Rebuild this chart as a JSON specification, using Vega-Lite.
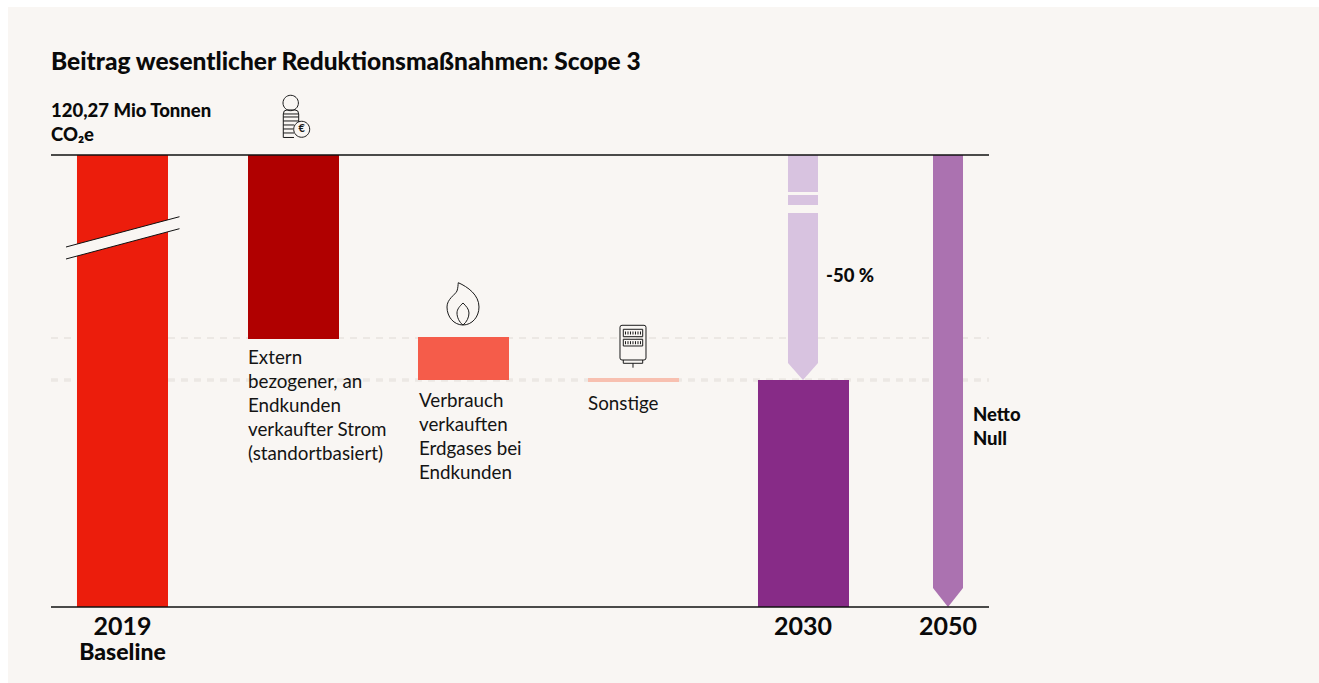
{
"$schema":"https://vega.github.io/schema/vega-lite/v6.json",
"width":1311,"height":676,"autosize":"none",
"padding":{"left":8,"top":7,"right":0,"bottom":0},
"background":"#ffffff",
"view":{"fill":"#f9f6f3","stroke":null},
"title":{"text":"Beitrag wesentlicher Reduktionsmaßnahmen: Scope 3","anchor":"start","frame":"group","offset":0,"dx":43,"dy":87,"baseline":"alphabetic","font":"Lato","fontSize":24.5,"fontWeight":900,"color":"#0a0a0a"},
"datasets":{
"bars":[
{"name":"2019 Baseline","x0":-0.2673,"x1":0.2673,"y0":120.27,"y1":0,"color":"#ec1d0c"},
{"name":"Extern bezogener Strom","x0":0.7372,"x1":1.2717,"y0":120.27,"y1":71.31,"color":"#b00000"},
{"name":"Erdgas","x0":1.7357,"x1":2.2702,"y0":71.84,"y1":60.4,"color":"#f55c4a"},
{"name":"Sonstige","x0":2.7342,"x1":3.2687,"y0":60.94,"y1":59.87,"color":"#f8c0b0"},
{"name":"2030","x0":3.7327,"x1":4.2673,"y0":60.4,"y1":0,"color":"#872b87"},
{"name":"Reduktion a","x0":3.9089,"x1":4.0852,"y0":120.27,"y1":110.43,"color":"#d8c3e0"},
{"name":"Reduktion b","x0":3.9089,"x1":4.0852,"y0":109.63,"y1":106.97,"color":"#d8c3e0"}
],
"arrows":[
{"arrow":"2030","x":3.9089,"top":104.84,"bottom":64.93},
{"arrow":"2030","x":3.9971,"top":104.84,"bottom":60.4},
{"arrow":"2030","x":4.0852,"top":104.84,"bottom":64.93},
{"arrow":"2050","x":4.7607,"top":120.27,"bottom":5.06},
{"arrow":"2050","x":4.8488,"top":120.27,"bottom":0},
{"arrow":"2050","x":4.9369,"top":120.27,"bottom":5.06}
],
"lines":[
{"x0":-0.42,"x1":5.0896,"y":120.27},
{"x0":-0.42,"x1":5.0896,"y":0}
],
"dashes":[
{"x0":-0.42,"x1":5.0896,"y":71.58,"w":2},
{"x0":-0.42,"x1":5.0896,"y":60.4,"w":3.5}
],
"break":[
{"x":-0.3319,"top":95.79,"bottom":92.6},
{"x":0.3348,"top":103.85,"bottom":100.66}
],
"breakLines":[
{"edge":"top","x":-0.3319,"y":95.79},
{"edge":"top","x":0.3348,"y":103.85},
{"edge":"bottom","x":-0.3319,"y":92.6},
{"edge":"bottom","x":0.3348,"y":100.66}
],
"notes":[
{"x":0.7372,"y":64.73,"t":"Extern\nbezogener, an\nEndkunden\nverkaufter Strom\n(standortbasiert)"},
{"x":1.7415,"y":53.28,"t":"Verbrauch\nverkauften\nErdgases bei\nEndkunden"},
{"x":2.7342,"y":52.49,"t":"Sonstige"}
],
"bold":[
{"x":-0.42,"y":130.45,"t":"120,27 Mio Tonnen\nCO₂e"},
{"x":4.1322,"y":86.54,"t":"-50 %"},
{"x":4.9956,"y":49.56,"t":"Netto\nNull"}
],
"years":[
{"x":0,"y":-7.45,"t":"2019"},
{"x":3.9971,"y":-7.45,"t":"2030"},
{"x":4.8488,"y":-7.45,"t":"2050"}
],
"sub":[{"x":0,"y":-14.1,"t":"Baseline"}],
"coin":[{"x":0.9897,"y":129.59}],
"flame":[{"x":2.0,"y":80.36}],
"meter":[{"x":2.9985,"y":69.45}],
"euro":[{"x":1.0525,"y":127.1,"t":"€"}]
},
"encoding":{
"x":{"type":"quantitative","scale":{"domain":[-0.6725,7.0279],"nice":false,"zero":false},"axis":null},
"y":{"type":"quantitative","scale":{"domain":[-20.22,159.65],"nice":false,"zero":false},"axis":null}
},
"layer":[
{"data":{"name":"dashes"},"mark":{"type":"rule","color":"#ece8e4","strokeDash":[7,6]},
 "encoding":{"x":{"field":"x0"},"x2":{"field":"x1"},"y":{"field":"y"},"strokeWidth":{"field":"w","type":"quantitative","scale":null}}},
{"data":{"name":"bars"},"mark":{"type":"rect"},
 "encoding":{"x":{"field":"x0"},"x2":{"field":"x1"},"y":{"field":"y0"},"y2":{"field":"y1"},"color":{"field":"color","type":"nominal","scale":null}}},
{"data":{"name":"arrows"},"transform":[{"filter":"datum.arrow=='2030'"}],"mark":{"type":"area","color":"#d8c3e0","opacity":1},
 "encoding":{"x":{"field":"x"},"y":{"field":"top"},"y2":{"field":"bottom"}}},
{"data":{"name":"arrows"},"transform":[{"filter":"datum.arrow=='2050'"}],"mark":{"type":"area","color":"#ab72b0","opacity":1},
 "encoding":{"x":{"field":"x"},"y":{"field":"top"},"y2":{"field":"bottom"}}},
{"data":{"name":"break"},"mark":{"type":"area","color":"#f9f6f3","opacity":1},
 "encoding":{"x":{"field":"x"},"y":{"field":"top"},"y2":{"field":"bottom"}}},
{"data":{"name":"breakLines"},"mark":{"type":"line","color":"#111111","strokeWidth":1},
 "encoding":{"x":{"field":"x"},"y":{"field":"y"},"detail":{"field":"edge"}}},
{"data":{"name":"lines"},"mark":{"type":"rule","color":"#111111","strokeWidth":1.5},
 "encoding":{"x":{"field":"x0"},"x2":{"field":"x1"},"y":{"field":"y"}}},
{"data":{"name":"notes"},"mark":{"type":"text","font":"Lato","fontSize":18.8,"align":"left","baseline":"alphabetic","lineBreak":"\n","lineHeight":24,"color":"#141414"},
 "encoding":{"x":{"field":"x"},"y":{"field":"y"},"text":{"field":"t"}}},
{"data":{"name":"bold"},"mark":{"type":"text","font":"Lato","fontSize":18.5,"fontWeight":900,"align":"left","baseline":"alphabetic","lineBreak":"\n","lineHeight":24,"color":"#0a0a0a"},
 "encoding":{"x":{"field":"x"},"y":{"field":"y"},"text":{"field":"t"}}},
{"data":{"name":"years"},"mark":{"type":"text","font":"Lato","fontSize":25,"fontWeight":"bold","align":"center","baseline":"alphabetic","color":"#0a0a0a"},
 "encoding":{"x":{"field":"x"},"y":{"field":"y"},"text":{"field":"t"}}},
{"data":{"name":"sub"},"mark":{"type":"text","font":"Lato","fontSize":23,"fontWeight":900,"align":"center","baseline":"alphabetic","color":"#0a0a0a"},
 "encoding":{"x":{"field":"x"},"y":{"field":"y"},"text":{"field":"t"}}},
{"data":{"name":"coin"},"mark":{"type":"point","size":4,"filled":false,"opacity":1,"stroke":"#1a1a1a","strokeWidth":1,
 "shape":"M7.4,-17 A7.7,7.7 0 1 1 -8,-17 A7.7,7.7 0 1 1 7.4,-17 Z M-7.7,-6 Q-7.7,-10 -4,-10 H4 Q7.7,-10 7.7,-6 V2 M-7.7,-6 V17.5 H3 M-7.7,-6 H7.7 M-7.7,-3 H7.7 M-7.7,1 H7.7 M-7.7,5 H3 M-7.7,9 H2 M-7.7,13 H3 M18.7,9.3 A8,8 0 1 1 2.7,9.3 A8,8 0 1 1 18.7,9.3 Z"},
 "encoding":{"x":{"field":"x"},"y":{"field":"y"}}},
{"data":{"name":"euro"},"mark":{"type":"text","font":"Lato","fontSize":11,"fontWeight":"bold","align":"center","baseline":"middle","color":"#1a1a1a"},
 "encoding":{"x":{"field":"x"},"y":{"field":"y"},"text":{"field":"t"}}},
{"data":{"name":"flame"},"mark":{"type":"point","size":4,"filled":false,"opacity":1,"stroke":"#1a1a1a","strokeWidth":1,
 "shape":"M-4.7,-22.3 C5,-18 16,-10 16,2 C16,12 9,20 0,20 C-9,20 -16,12 -16,2 C-16,-6 -8,-10 -6,-14 C-5,-17 -5,-20 -4.7,-22.3 Z M0,20 C-4,17 -6,12 -6,8 C-6,4 -3,1 0,-2 C3,1 6,4 6,8 C6,12 4,17 0,20 Z"},
 "encoding":{"x":{"field":"x"},"y":{"field":"y"}}},
{"data":{"name":"meter"},"mark":{"type":"point","size":4,"filled":false,"opacity":1,"stroke":"#1a1a1a","strokeWidth":1,
 "shape":"M-11,-20.7 H11 Q13,-20.7 13,-18.7 V12 Q13,14 11,14 H-11 Q-13,14 -13,12 V-18.7 Q-13,-20.7 -11,-20.7 Z M-9.7,14 V17.3 H9.7 V14 M0,17.3 V21.7 M-9.7,-16.7 H9.7 V-9.3 H-9.7 Z M-9.7,-6.7 H9.7 V0 H-9.7 Z M-7.5,-14.5 V-11.5 M-5,-14.5 V-11.5 M-2.5,-14.5 V-11.5 M0,-14.5 V-11.5 M2.5,-14.5 V-11.5 M5,-14.5 V-11.5 M7.5,-14.5 V-11.5 M-7.5,-4.8 V-1.8 M-5,-4.8 V-1.8 M-2.5,-4.8 V-1.8 M0,-4.8 V-1.8 M2.5,-4.8 V-1.8 M5,-4.8 V-1.8 M7.5,-4.8 V-1.8"},
 "encoding":{"x":{"field":"x"},"y":{"field":"y"}}}
]
}
